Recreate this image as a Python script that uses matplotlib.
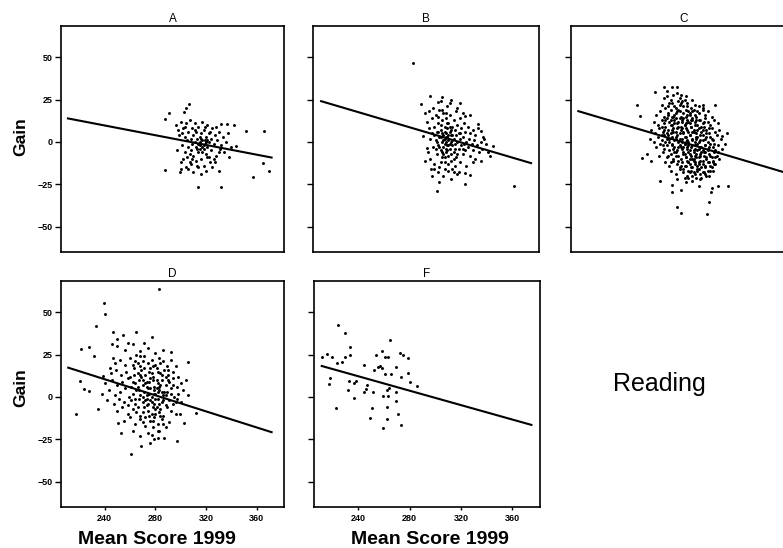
import matplotlib
matplotlib.use("Agg")
import matplotlib.pyplot as plt
import numpy as np

plt.rcParams.update({
    "font.family": ["Liberation Sans", "DejaVu Sans"],
    "axes.linewidth": 1.2,
})

# Mean Score 1999 (x) vs Gain (y)
a_pts = [
    (306.7, 22.6), (304.2, 20.2), (302.2, 17.8), (290.8, 17.1), (287.3, 13.7),
    (287.8, -16.6), (299.1, -17.6), (299.9, -16.1), (313.8, -26.8), (331.9, -26.4),
    (357.2, -20.6), (369.8, -17.4), (364.7, -12.7), (365.5, 6.5), (351.4, 6.5),
    (341.8, 9.8), (337.2, 5.5), (336.5, 10.4), (331.9, 10.4), (343.8, -2.3),
    (296, 10), (298, 7), (299, 4), (300, 12), (301, -2), (302, 8), (303, -6), (303, 3),
    (304, 11), (305, -9), (305, 1), (306, 6), (306, -3), (307, 13), (307, -12), (308, 2),
    (308, -5), (309, 8), (309, -1), (310, 4), (310, -8), (311, 0), (311, 11), (312, -3),
    (312, 6), (313, -14), (313, 2), (314, -6), (314, 9), (315, 0), (315, -2), (316, 5),
    (316, -10), (317, 1), (317, 12), (318, -4), (318, 7), (319, -1), (320, 3), (320, -7),
    (321, 10), (321, -3), (322, 0), (322, 5), (323, -12), (324, 2), (324, -5), (325, 8),
    (326, -1), (327, 4), (328, -8), (329, 1), (330, 6), (331, -4), (332, -2), (333, 3),
    (334, -6), (336, 0), (338, -9), (340, -3), (297, -5), (300, -12), (302, -10),
    (304, -15), (306, -16), (308, -13), (310, -18), (312, -11), (314, -15), (316, -19),
    (318, -14), (320, -17), (322, -9), (325, -15), (327, -12), (330, -17), (301, 5),
    (303, 9), (307, -7), (309, -10), (311, 7), (313, -4), (315, 3), (317, -6), (319, 9),
    (321, -9), (323, 6), (326, -10), (328, 9), (330, -6),
    (314, -1), (316, 2), (318, -2), (320, 0), (317, -3), (319, 1), (315, -4), (321, 1),
]

b_pts = [
    (283, 46.6), (297, 27), (306, 26.7), (313, 24.7), (320, 22.8), (302.6, 23.7),
    (289.5, 22.2), (292.5, 17.3), (327.8, 15.7), (324, 15.3), (334, 10.4), (336.6, 6.5),
    (339, 1.6), (345.5, -2.3), (343, -8.2), (336.6, -11.1), (330.3, -12.1), (324, -18.6),
    (324, -24.9), (303.8, -23.9), (302, -28.8), (297.5, -16), (292.5, -11.1),
    (294.5, -3.3), (291.2, 3.6), (315, -18), (317.7, -19), (327.8, -19.4), (361.9, -25.8),
    (294, 12), (295, -6), (296, 8), (296, 18), (297, 2), (297, -10), (298, 14), (298, 5),
    (299, -3), (299, 20), (300, 9), (300, -13), (301, 1), (301, 16), (302, -7), (302, 6),
    (303, 11), (303, -2), (304, 3), (304, -15), (304, 19), (305, 7), (305, -5), (306, 13),
    (306, 0), (306, -9), (307, 4), (307, 17), (307, -3), (308, 9), (308, -1), (308, 2),
    (308, -12), (309, 5), (309, 0), (309, 14), (309, -6), (310, 3), (310, -2), (310, 8),
    (310, 21), (311, 1), (311, -8), (311, 11), (312, -4), (312, 6), (312, 16), (313, 0),
    (313, -11), (313, 4), (314, 9), (314, -2), (314, -16), (315, 2), (315, 13), (315, -6),
    (316, -1), (316, 7), (317, 4), (317, -9), (317, 18), (318, 0), (318, 10), (319, -4),
    (319, 5), (320, -12), (320, 2), (320, 14), (321, -2), (321, 8), (322, -7), (322, 3),
    (323, 11), (323, -1), (324, -5), (324, 6), (325, 0), (325, -14), (326, 9), (326, -3),
    (327, 2), (328, -8), (328, 5), (329, -1), (330, 7), (330, -5), (331, 1), (332, -10),
    (332, 4), (333, -2), (334, 8), (335, -6), (336, 0), (337, -4), (338, 3), (340, -1),
    (342, -6), (303, -18), (307, -20), (311, -17), (316, -14), (319, -18), (313, -22),
    (300, -16), (298, -20), (305, 24), (312, 23), (318, 20), (322, 17), (301, -4), (305, 3),
    (309, -4), (311, 4), (313, 7), (307, -7), (310, -5), (312, -1), (314, 1), (316, -4),
    (306, 5), (308, 6),
    (305, 10), (307, 1), (309, 3), (311, -2), (306, -6), (304, -3), (308, -9), (310, 11),
    (312, 9), (314, 4), (303, 6), (302, 0), (300, 4), (309, 17), (306, 19), (303, 15),
    (315, -10), (318, -7), (320, 5), (322, -4), (313, -7), (311, -13), (308, -16), (305, -12),
]

c_pts = [
    (256.7, 22.1), (259, 15.3), (260.8, -9.2), (264.3, -7.3), (267.6, -11.2), (275.1, -23),
    (284, -25.5), (284.5, -29.8), (291, -28.2), (287.8, -38.6), (291, -41.9), (311.7, -42.5),
    (313, -35.3), (315.5, -26.9), (319.8, -26.3), (327.4, -26.3), (314.3, -29.8),
    (305.4, -25.9), (295.3, -23.9), (317.3, 22.1), (308, 22.1), (277.7, 32.5), (284.5, 32.5),
    (287.8, 32.5), (291, 28), (270.9, 29.4), (280.2, 30), (326.9, 5.5), (323.1, 3.5),
    (325.6, -1.4),
    (280, 27), (285, 28), (290, 26), (283, 25), (295, 27), (288, 29), (300, 25), (278, 26),
    (276, 22), (281, 21), (284, 23), (287, 20), (290, 22), (293, 21), (296, 23), (299, 20),
    (302, 22), (305, 21), (279, 20), (292, 24), (308, 20),
    (272, 16), (275, 18), (278, 15), (281, 17), (283, 19), (286, 16), (288, 18), (291, 15),
    (293, 17), (295, 19), (298, 16), (300, 18), (303, 15), (305, 17), (308, 19), (310, 16),
    (312, 18), (315, 15), (284, 15), (297, 18), (289, 19),
    (270, 12), (273, 10), (276, 13), (278, 11), (280, 14), (282, 12), (284, 10), (286, 13),
    (288, 11), (290, 14), (292, 12), (294, 10), (296, 13), (298, 11), (300, 14), (302, 12),
    (304, 10), (306, 13), (308, 11), (310, 14), (312, 12), (314, 10), (317, 13), (320, 11),
    (279, 13), (287, 14), (295, 11), (303, 13),
    (268, 7), (271, 5), (274, 8), (277, 6), (279, 9), (281, 7), (283, 5), (285, 8), (287, 6),
    (289, 9), (291, 7), (293, 5), (295, 8), (297, 6), (299, 9), (301, 7), (303, 5), (305, 8),
    (307, 6), (309, 9), (311, 7), (313, 5), (315, 8), (318, 6), (321, 7), (284, 7), (292, 8),
    (300, 6), (308, 7), (276, 9),
    (267, 2), (270, 0), (273, 3), (276, 1), (278, 4), (280, 2), (282, 0), (284, 3), (286, 1),
    (288, 4), (290, 2), (292, 0), (294, 3), (296, 1), (298, 4), (300, 2), (302, 0), (304, 3),
    (306, 1), (308, 4), (310, 2), (312, 0), (314, 3), (316, 1), (319, 4), (322, 2), (287, 2),
    (295, 0), (303, 2), (311, 3), (281, 4),
    (272, -3), (275, -1), (278, -4), (280, -2), (282, -5), (284, -1), (286, -3), (288, -5),
    (290, -2), (292, -4), (294, -1), (296, -3), (298, -5), (300, -2), (302, -4), (304, -1),
    (306, -3), (308, -5), (310, -2), (312, -4), (314, -1), (316, -3), (318, -5), (320, -2),
    (323, -4), (289, -3), (297, -2), (305, -4), (313, -3), (301, -5), (293, -3),
    (274, -8), (277, -6), (280, -9), (283, -7), (285, -10), (287, -6), (289, -8), (291, -10),
    (293, -7), (295, -9), (297, -6), (299, -8), (301, -10), (303, -7), (305, -9), (307, -6),
    (309, -8), (311, -10), (313, -7), (315, -9), (317, -6), (319, -8), (321, -10), (294, -7),
    (302, -8), (310, -6), (298, -10), (306, -7),
    (279, -12), (282, -14), (285, -11), (288, -13), (290, -15), (292, -12), (294, -14),
    (296, -11), (298, -13), (300, -15), (302, -12), (304, -14), (306, -11), (308, -13),
    (310, -15), (312, -12), (314, -14), (316, -11), (318, -13), (297, -12), (305, -13),
    (301, -11),
    (283, -17), (287, -19), (290, -16), (293, -18), (296, -20), (299, -17), (302, -19),
    (305, -16), (308, -18), (311, -20), (314, -17), (298, -18), (304, -17),
    (288, -22), (294, -21), (300, -23), (306, -22), (297, -21),
]

# second, denser layer of the C blob (darkest part, lower right of centre)
c_core = [
    (283, 10), (285, 6), (287, 3), (289, 0), (291, -3), (293, -6), (295, -9), (297, -12),
    (299, -15), (301, -18), (286, 11), (288, 8), (290, 5), (292, 2), (294, -1), (296, -4),
    (298, -7), (300, -10), (302, -13), (304, -16), (306, -19), (289, 12), (291, 9), (293, 6),
    (295, 3), (297, 0), (299, -3), (301, -6), (303, -9), (305, -12), (307, -15), (309, -18),
    (292, 13), (294, 10), (296, 7), (298, 4), (300, 1), (302, -2), (304, -5), (306, -8),
    (308, -11), (310, -14), (312, -17), (295, 15), (297, 12), (299, 9), (301, 6), (303, 3),
    (305, 0), (307, -3), (309, -6), (311, -9), (313, -12), (315, -15), (298, 17), (300, 13),
    (302, 10), (304, 7), (306, 4), (308, 1), (310, -2), (312, -5), (314, -8), (316, -12),
    (281, 16), (283, 13), (285, 15), (287, 17), (290, 18), (293, 14), (296, 16), (299, 13),
    (302, 16), (305, 13), (307, 9), (309, 12), (311, 5), (313, 8), (315, 2), (317, -1),
    (285, -4), (287, -8), (289, -11), (291, -14), (293, -16), (295, -14), (297, -17),
    (300, -20), (303, -21), (307, -21), (310, -19), (313, -20), (316, -17), (318, -9),
    (320, -6), (317, -13), (278, 7), (280, 5), (282, 2), (284, -2), (286, -6), (279, 0),
    (281, -8), (283, -12), (276, 4), (277, -2), (286, 21), (291, 23), (296, 21), (301, 19),
    (304, 18), (294, 25), (282, 23), (289, 24),
]

d_pts = [
    (282.9, 63.9), (239.1, 55.6), (240.5, 49.1), (233, 42.1), (246.3, 38.2), (254.4, 36.6),
    (264.5, 38.2), (277.1, 35.2), (292.3, 26.3), (306.1, 20.4), (296, 18.4), (217.3, -9.9),
    (312.4, -9.7), (299.8, -10.3), (302.9, -15.3), (297.3, -26.2), (260.7, -33.5),
    (269, -28.7), (277.1, -22.2), (282.2, -24.2), (253.2, -21.2), (250.6, -15.3),
    (234.4, -7.4), (221.2, 28.3), (227.7, 29.3), (231.7, 24.3), (220.7, 9.5), (224, 4.5),
    (227.7, 3.5), (238.3, 12.4), (244.3, 17.4), (246.8, 23.3), (249.4, 34.2), (245.6, 31.3),
    (250, 30), (256, 28), (262, 31), (268, 27), (274, 29), (280, 26), (265, 25), (258, 32),
    (286, 28), (271, 32),
    (248, 20), (252, 22), (256, 19), (260, 23), (264, 21), (268, 18), (271, 24), (274, 20),
    (277, 22), (280, 19), (283, 23), (286, 21), (289, 18), (292, 22), (262, 19), (270, 21),
    (278, 18), (284, 20),
    (245, 14), (249, 16), (253, 13), (257, 15), (260, 12), (263, 17), (266, 14), (269, 16),
    (272, 13), (275, 15), (278, 12), (281, 17), (284, 14), (287, 16), (290, 13), (294, 15),
    (298, 12), (276, 17), (268, 13), (282, 15),
    (240, 8), (246, 10), (250, 7), (254, 9), (258, 11), (261, 6), (264, 8), (267, 10),
    (270, 7), (273, 9), (276, 11), (279, 6), (282, 8), (285, 10), (288, 7), (291, 9),
    (294, 11), (297, 6), (300, 8), (304, 10), (272, 8), (278, 10), (284, 7), (266, 6),
    (290, 10),
    (238, 2), (243, 4), (248, 1), (252, 3), (256, 5), (259, 0), (262, 2), (265, 4), (268, 1),
    (271, 3), (274, 5), (277, 0), (280, 2), (283, 4), (286, 1), (289, 3), (292, 5), (295, 0),
    (298, 2), (302, 4), (306, 1), (275, 2), (279, 4), (285, 3), (270, 0), (273, 1), (281, 5),
    (242, -2), (247, -4), (251, -1), (255, -3), (258, -5), (261, -2), (264, -4), (267, -1),
    (270, -3), (273, -5), (276, -2), (279, -4), (282, -1), (285, -3), (288, -5), (291, -2),
    (294, -4), (297, -1), (300, -3), (277, -3), (283, -4), (272, -2),
    (250, -8), (254, -6), (258, -10), (262, -7), (265, -9), (268, -11), (271, -6), (274, -8),
    (277, -10), (280, -7), (283, -9), (286, -11), (289, -6), (292, -8), (296, -10),
    (275, -11), (281, -6), (270, -9),
    (255, -14), (260, -12), (264, -16), (268, -13), (272, -17), (276, -14), (279, -12),
    (282, -16), (285, -13), (288, -18), (291, -15), (278, -18), (270, -15),
    (262, -20), (268, -23), (274, -21), (279, -25), (283, -20), (287, -24), (276, -27),
]

# denser middle of the D cloud
d_core = [
    (266, 20), (269, 12), (271, 17), (273, 6), (275, 9), (277, 14), (279, 2), (281, 10),
    (283, 6), (285, 13), (287, 3), (273, -1), (276, 5), (278, -6), (280, -1), (282, 3),
    (284, -7), (286, -2), (288, 1), (272, -12), (274, -4), (278, -14), (280, -10),
    (284, -11), (286, -16), (282, -20), (270, 10), (267, 4), (264, -1), (262, 9),
    (290, 16), (288, 12), (292, 2), (294, 7), (296, -3), (266, -6), (263, 13), (268, 24),
]

f_pts = [
    (224.3, 42.3), (229.6, 37.7), (233.8, 29.8), (212.0, 23.5), (216.0, 25.5),
    (219.9, 23.9), (229.6, 23.5), (233.8, 24.9), (223.3, 19.9), (227.0, 20.5),
    (218.0, 11.0), (217.3, 7.4), (244.3, 18.9), (253.9, 24.9), (258.2, 27.2),
    (260.7, 23.9), (263.2, 23.9), (264.5, 33.4), (272.1, 26.2), (275.1, 24.9),
    (278.9, 22.9), (256.9, 18.5), (258.2, 17.3), (255.7, 17.9), (251.9, 16.0),
    (269.6, 17.9), (260.7, 13.4), (265.8, 13.4), (273.3, 12.0), (278.4, 14.0),
    (280.1, 8.6), (286.0, 6.6), (232.5, 9.4), (238.3, 9.4), (237.0, 8.0), (246.8, 7.0),
    (246.3, 4.7), (244.8, 2.7), (232.2, 4.1), (237.0, -0.9), (251.4, 3.1), (262.0, 4.1),
    (264.0, 5.5), (269.6, 2.7), (259.0, 0.7), (263.2, 0.7), (269.6, -2.5), (222.5, -6.4),
    (250.6, -6.8), (262.0, -5.8), (270.8, -9.8), (249.4, -12.4), (262.0, -12.8),
    (273.3, -16.7), (259.5, -18.3),
]

# fitted regression lines (end points) per panel
line_x = {"A": [211.0, 371.7], "B": [211.8, 375.3], "C": [211.2, 375.0],
          "D": [211.2, 371.7], "F": [211.5, 374.8]}
line_y = {"A": [13.9, -9.2], "B": [24.1, -12.5], "C": [18.2, -18.7],
          "D": [17.3, -20.8], "F": [18.3, -16.5]}

panel_pts = {"A": a_pts, "B": b_pts, "C": c_pts + c_core, "D": d_pts + d_core, "F": f_pts}
y_ticks = [-50, -25, 0, 25, 50]
x_ticks = [240, 280, 320, 360]

W, H = 783, 548
fig = plt.figure(figsize=(W / 100, H / 100), dpi=100)

# axes boxes in pixels: left, top, width, height
boxes = {"A": (61, 26, 223, 226), "B": (313, 26, 226, 226), "C": (571, 26, 226, 226),
         "D": (61, 281, 223, 226), "F": (314, 281, 226, 226)}

for name, (l, t, w, h) in boxes.items():
    ax = fig.add_axes([l / W, (H - t - h) / H, w / W, h / H])
    pts = np.array(panel_pts[name])
    ax.scatter(pts[:, 0], pts[:, 1], s=4.5, marker="o", c="black", linewidths=0)
    ax.plot(line_x[name], line_y[name], color="black", lw=1.5)
    ax.set_xlim(205.5, 381.5)
    ax.set_ylim(-65, 68.5)
    ax.set_yticks(y_ticks)
    ax.set_xticks(x_ticks)
    ax.tick_params(axis="y", direction="out", length=4, width=1, labelsize=6.5, pad=2)
    ax.tick_params(axis="x", direction="out", length=2, width=1, labelsize=6.5, pad=3)
    for lab in ax.get_xticklabels() + ax.get_yticklabels():
        lab.set_fontweight("bold")
    ax.set_title(name, fontsize=8.5, pad=3)
    if name not in ("A", "D"):
        ax.set_yticklabels([])
    if name in ("A", "B", "C"):
        ax.tick_params(axis="x", length=0, labelbottom=False)

fig.text(21 / W, 1 - 137 / H, "Gain", rotation=90, ha="center", va="center",
         fontsize=12.5, fontweight="bold")
fig.text(21 / W, 1 - 388 / H, "Gain", rotation=90, ha="center", va="center",
         fontsize=12.5, fontweight="bold")
fig.text(157 / W, 1 - 539 / H, "Mean Score 1999", ha="center", va="center",
         fontsize=14, fontweight="bold")
fig.text(430 / W, 1 - 539 / H, "Mean Score 1999", ha="center", va="center",
         fontsize=14, fontweight="bold")
fig.text(659 / W, 1 - 384 / H, "Reading", ha="center", va="center", fontsize=18)

fig.savefig("out.png", dpi=100)
